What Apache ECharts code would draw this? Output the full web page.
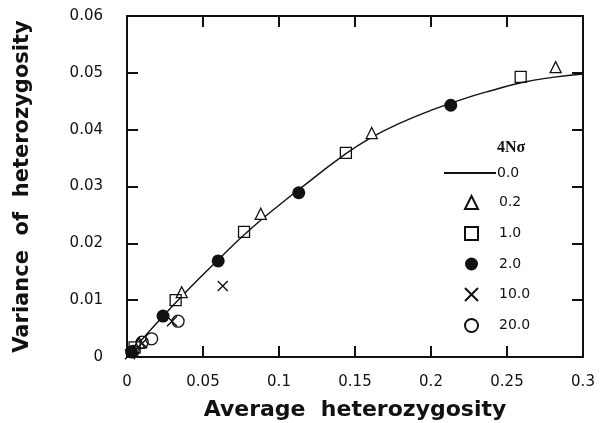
<!DOCTYPE html>
<html>
<head>
<meta charset="utf-8">
<script src="https://cdn.jsdelivr.net/npm/echarts@6/dist/echarts.min.js"></script>
<style>
  html, body { margin: 0; padding: 0; background: #fff; }
  #chart { width: 608px; height: 423px; }
</style>
</head>
<body>
<div id="chart"></div>
<script>
// Variance of heterozygosity against average heterozygosity, by 4Nσ.
// Values.
const X_TICKS = [0, 0.05, 0.1, 0.15, 0.2, 0.25, 0.3];
const Y_TICKS = [0, 0.01, 0.02, 0.03, 0.04, 0.05, 0.06];

// 4Nσ = 0.0 — the neutral curve
const curveH = [0, 0.02, 0.04, 0.06, 0.08, 0.10, 0.12, 0.14, 0.16, 0.18, 0.20, 0.22, 0.24, 0.26, 0.28, 0.30];
const curveV = [0, 0.0061, 0.0118, 0.0171, 0.0222, 0.0267, 0.0309, 0.0350, 0.0385, 0.0412, 0.0434, 0.0453, 0.0469, 0.0483, 0.0492, 0.0498];

// 4Nσ = 0.2
const triH = [0.008, 0.036, 0.088, 0.161, 0.282];
const triV = [0.0025, 0.0114, 0.0252, 0.0394, 0.0510];
// 4Nσ = 1.0
const sqH = [0.005, 0.032, 0.077, 0.144, 0.259];
const sqV = [0.0017, 0.0100, 0.0220, 0.0359, 0.0493];
// 4Nσ = 2.0
const dotH = [0.003, 0.0237, 0.060, 0.113, 0.213];
const dotV = [0.0009, 0.0072, 0.0169, 0.0289, 0.0443];
// 4Nσ = 10.0
const crossH = [0.002, 0.010, 0.0296, 0.063];
const crossV = [0.0005, 0.0024, 0.0063, 0.0125];
// 4Nσ = 20.0
const ringH = [0.004, 0.010, 0.0162, 0.0336];
const ringV = [0.0010, 0.0026, 0.0032, 0.0063];

const zip = (xs, ys) => xs.map((x, i) => [x, ys[i]]);

const FONT = 'DejaVu Sans';
const INK = '#111';
const CROSS = 'path://M0,0L10,10M10,0L0,10';

const baseAxis = {
  min: 0,
  axisLine: { onZero: false, lineStyle: { color: INK, width: 2 } },
  axisTick: { inside: true, length: 11, lineStyle: { color: INK, width: 2 } },
  splitLine: { show: false },
};

const legendText = { fontFamily: FONT, fontSize: 14, color: INK };

const option = {
  animation: false,
  backgroundColor: '#fff',
  title: {
    text: '4Nσ', left: 492, top: 135,
    textStyle: { fontFamily: 'Liberation Serif', fontWeight: 'bold', fontSize: 16, color: INK },
  },
  grid: { left: 127, right: 25, top: 16, bottom: 66, outerBoundsMode: 'none', containLabel: false },
  legend: [
    {
      // the neutral curve: a plain line swatch, no marker
      orient: 'vertical', left: 444, top: 166, padding: 0,
      itemWidth: 52, itemHeight: 2, icon: 'rect',
      textStyle: Object.assign({ padding: [0, 0, 0, -4] }, legendText),
      data: ['0.0'],
    },
    {
      orient: 'vertical', left: 464, top: 195, padding: 0,
      itemWidth: 13, itemHeight: 13, itemGap: 16,
      textStyle: Object.assign({ padding: [0, 0, 0, 16] }, legendText),
      data: ['0.2', '1.0', '2.0', '10.0', '20.0'],
    },
  ],
  xAxis: [
    Object.assign({}, baseAxis, {
      type: 'value', max: 0.3, interval: 0.05, position: 'bottom',
      name: 'Average  heterozygosity', nameLocation: 'middle', nameGap: 42,
      nameTextStyle: { fontFamily: FONT, fontWeight: 'bold', fontSize: 22, color: INK },
      axisLabel: {
        margin: 18, fontFamily: FONT, fontSize: 15, color: INK,
        formatter: (v) => (X_TICKS.includes(+v.toFixed(2)) ? String(+v.toFixed(2)) : ''),
      },
    }),
    Object.assign({}, baseAxis, {
      type: 'value', max: 0.3, interval: 0.05, position: 'top', axisLabel: { show: false },
    }),
  ],
  yAxis: [
    Object.assign({}, baseAxis, {
      type: 'value', max: 0.06, interval: 0.01, position: 'left',
      name: 'Variance  of  heterozygosity', nameLocation: 'middle', nameGap: 94,
      nameTextStyle: { fontFamily: FONT, fontWeight: 'bold', fontSize: 21, color: INK },
      axisLabel: {
        margin: 24, fontFamily: FONT, fontSize: 15, color: INK,
        formatter: (v) => {
          const r = +v.toFixed(2);
          if (!Y_TICKS.includes(r)) return '';
          return r === 0 ? '0' : r.toFixed(2);
        },
      },
    }),
    Object.assign({}, baseAxis, {
      type: 'value', max: 0.06, interval: 0.01, position: 'right', axisLabel: { show: false },
    }),
  ],
  series: [
    {
      name: '0.0', type: 'line', data: zip(curveH, curveV), smooth: true, symbol: 'none',
      lineStyle: { color: INK, width: 1.4 }, itemStyle: { color: INK }, z: 2,
    },
    {
      name: '0.2', type: 'scatter', data: zip(triH, triV), symbol: 'triangle', symbolSize: 11,
      itemStyle: { color: '#fff', borderColor: INK, borderWidth: 1.3, opacity: 1 }, z: 3,
    },
    {
      name: '1.0', type: 'scatter', data: zip(sqH, sqV), symbol: 'rect', symbolSize: 11,
      itemStyle: { color: 'rgba(255,255,255,0)', borderColor: INK, borderWidth: 1.3, opacity: 1 }, z: 3,
    },
    {
      name: '2.0', type: 'scatter', data: zip(dotH, dotV), symbol: 'circle', symbolSize: 13,
      itemStyle: { color: INK, opacity: 1 }, z: 3,
    },
    {
      name: '10.0', type: 'scatter', data: zip(crossH, crossV), symbol: CROSS, symbolSize: 10,
      itemStyle: { color: 'rgba(255,255,255,0)', borderColor: INK, borderWidth: 1.4, opacity: 1 }, z: 3,
    },
    {
      name: '20.0', type: 'scatter', data: zip(ringH, ringV), symbol: 'circle', symbolSize: 12,
      itemStyle: { color: 'rgba(255,255,255,0)', borderColor: INK, borderWidth: 1.3, opacity: 1 }, z: 3,
    },
  ],
};

const chart = echarts.init(document.getElementById('chart'), null, { renderer: 'canvas' });
chart.setOption(option);
</script>
</body>
</html>
